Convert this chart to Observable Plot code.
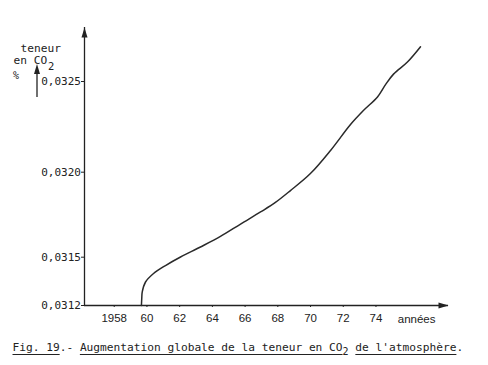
<!DOCTYPE html>
<html><head><meta charset="utf-8">
<script src="https://cdn.jsdelivr.net/npm/d3@7"></script>
<script src="https://cdn.jsdelivr.net/npm/@observablehq/plot@0.6"></script>
<style>
body{margin:0;background:#fff;width:488px;height:365px;overflow:hidden;position:relative}
#chart svg{display:block}
#cap{position:absolute;left:12.5px;top:341.5px;font-family:"DejaVu Sans Mono",monospace;font-size:11.2px;color:#222;white-space:nowrap;line-height:1}
#cap u{text-decoration-thickness:1px;text-underline-offset:2.5px}
#cap sub{font-size:10px;vertical-align:-4px;line-height:0}
</style></head><body><div id="chart"></div>
<div id="cap"><u>Fig. 19</u>.- <u>Augmentation globale de la teneur en CO</u><sub>2</sub> <u>de l'atmosphère</u>.</div>
<script>
const years = [1959.48, 1959.50, 1959.53, 1959.73, 1960.22, 1960.95, 1961.87, 1963.09, 1964.31, 1965.54, 1966.76, 1967.67, 1968.59, 1969.81, 1971.04, 1972.26, 1973.05, 1973.91, 1974.40, 1974.89, 1975.74, 1976.54];
const co2 = [0.031200, 0.031243, 0.031284, 0.031346, 0.031399, 0.031448, 0.031501, 0.031560, 0.031622, 0.031695, 0.031766, 0.031822, 0.031892, 0.031992, 0.032120, 0.032263, 0.032340, 0.032415, 0.032483, 0.032541, 0.032608, 0.032693];
const xTicks = [1958, 1960, 1962, 1964, 1966, 1968, 1970, 1972, 1974];
const xTickLabels = ["1958", "60", "62", "64", "66", "68", "70", "72", "74"];
const yTicks = [0.0312, 0.0315, 0.0320, 0.0325];
const yTickLabels = ["0,0312", "0,0315", "0,0320", "0,0325"];
const xDomain = [1956, 1978.25];
const yDomain = [0.0312, 0.0315, 0.0320, 0.0325, 0.0328];
const xUnit = "années";
const yLabel = ["teneur", "en CO", "2", "%"];

const ink = "#222";
const mono = "DejaVu Sans Mono";
const arrowHead = {draw(ctx) { ctx.moveTo(0, 0); ctx.lineTo(3, 10); ctx.lineTo(-3, 10); ctx.closePath(); }};

const series = years.map((x, i) => ({x, y: co2[i]}));

const chart = Plot.plot({
  width: 488,
  height: 335,
  marginLeft: 84,
  marginRight: 40,
  marginTop: 27,
  marginBottom: 30,
  style: {background: "#fff", color: ink},
  x: {type: "linear", domain: xDomain, range: [84, 448]},
  y: {type: "linear", domain: yDomain, range: [305, 256.7, 171.7, 81, 27]},
  marks: [
    Plot.axisX({ticks: xTicks, tickFormat: (d, i) => xTickLabels[i], tickSize: 2, tickPadding: 6, fontSize: 11.5, fontFamily: "Liberation Sans", stroke: ink, fill: ink, label: null, dx: -3}),
    Plot.axisY({ticks: yTicks, tickFormat: (d, i) => yTickLabels[i], tickSize: 3, tickPadding: 0.5, fontSize: 11, fontFamily: mono, stroke: ink, fill: ink, label: null}),
    Plot.ruleY([yDomain[0]], {stroke: ink, strokeWidth: 1.3}),
    Plot.ruleX([xDomain[0]], {stroke: ink, strokeWidth: 1.3}),
    Plot.dot([{x: xDomain[1], y: yDomain[0], r: 90}, {x: xDomain[0], y: yDomain[yDomain.length - 1], r: 0}],
      {x: "x", y: "y", rotate: "r", symbol: arrowHead, fill: ink, stroke: "none"}),
    Plot.line(series, {x: "x", y: "y", curve: "catmull-rom", stroke: "#2a2a2a", strokeWidth: 1.5}),
    Plot.text([xUnit], {frameAnchor: "bottom-right", dx: -13, dy: 17, textAnchor: "end", fontSize: 11.5, fontFamily: "Liberation Sans", fill: ink}),
    Plot.text([yLabel[0]], {frameAnchor: "top-left", dx: 20 - 84, dy: 43.5 - 27, textAnchor: "start", fontSize: 11.2, fontFamily: mono, fill: ink}),
    Plot.text([yLabel[1]], {frameAnchor: "top-left", dx: 13 - 84, dy: 56 - 27, textAnchor: "start", fontSize: 11.2, fontFamily: mono, fill: ink}),
    Plot.text([yLabel[2]], {frameAnchor: "top-left", dx: 47.5 - 84, dy: 62 - 27, textAnchor: "start", fontSize: 10.5, fontFamily: mono, fill: ink}),
    Plot.text([yLabel[3]], {frameAnchor: "top-left", dx: 12.5 - 84, dy: 71 - 27, textAnchor: "start", fontSize: 10, fontFamily: mono, fill: ink}),
    () => {
      const g = d3.create("svg:g");
      g.append("line").attr("x1", 37).attr("x2", 37).attr("y1", 97).attr("y2", 72).attr("stroke", ink).attr("stroke-width", 1.3);
      g.append("path").attr("d", "M37,64L40,74L34,74Z").attr("fill", ink);
      return g.node();
    }
  ]
});
document.getElementById("chart").append(chart);
</script>
</body></html>
